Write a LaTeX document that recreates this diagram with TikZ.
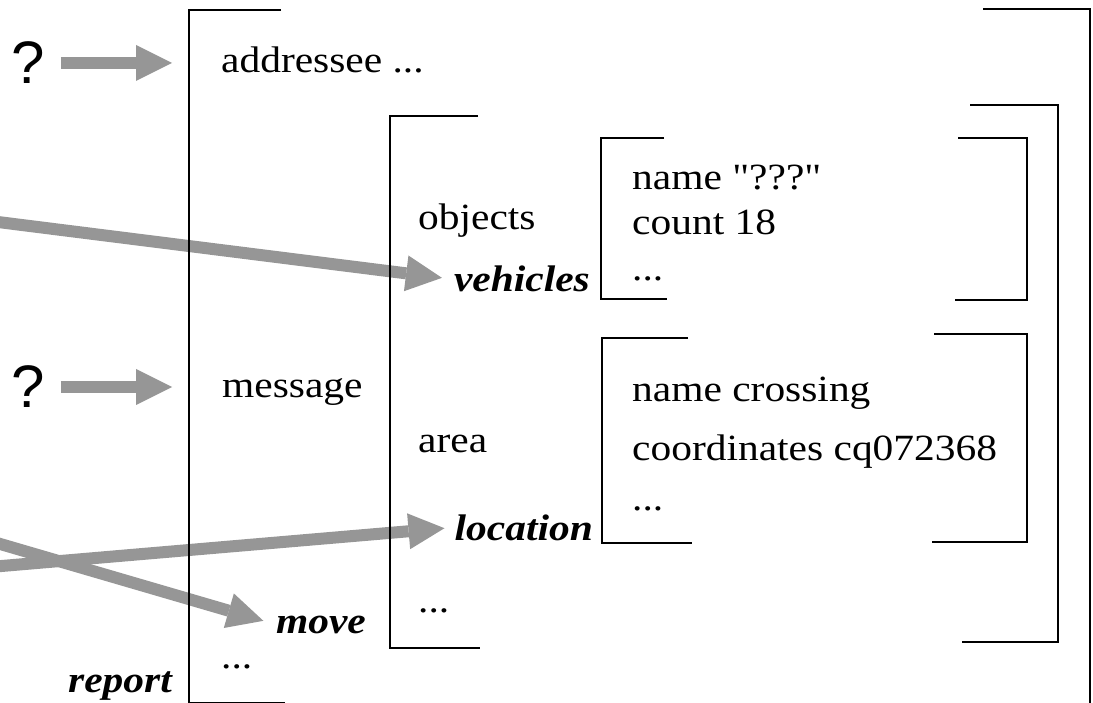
\documentclass[tikz,border=0pt]{standalone}
\usepackage{fontspec}
\setmainfont{Liberation Serif}[FakeStretch=1.12, Ligatures=TeXOff]
\newfontfamily\qfont{Liberation Sans}
\usepackage{tikz}
\usetikzlibrary{arrows.meta}
\definecolor{arrowgray}{RGB}{150,150,150}
\newcommand{\slotfont}{\fontsize{37}{40}\selectfont}

\begin{document}
\begin{tikzpicture}[
x=1pt, y=-1pt,
txt/.style={font=\slotfont, inner sep=0pt, anchor=base west},
key/.style={font=\slotfont\bfseries\itshape, inner sep=0pt, anchor=base east},
ques/.style={font=\qfont\fontsize{60}{64}\selectfont, inner sep=0pt},
fat/.style={draw=arrowgray, line width=12pt,
  -{Triangle[length=36pt,width=36pt,line width=0pt]}},
brk/.style={line width=1.5pt}]
    \useasboundingbox (0,0) rectangle (1093,703);

    % Slot names
    \node[txt] (addr) at (221,73) {addressee ...};
    \node[txt] (msg) at (222,398) {message};
    \node[txt] (rdots) at (221,668) {...};
    \node[key] (rep) at (172,692) {report};
    \node[key] (mv) at (366,633) {move};

    \node[txt] (obj) at (418,230) {objects};
    \node[key] (veh) at (590,292) {vehicles};
    \node[txt] (area) at (418,453) {area};
    \node[key] (loc) at (593,540) {location};
    \node[txt] (mdots) at (418,612) {...};

    % Fillers
    \node[txt] (vname) at (632,190) {name "???"};
    \node[txt] (vcount) at (632,235) {count 18};
    \node[txt] (vdots) at (632,281) {...};
    \node[txt] (lname) at (632,402) {name crossing};
    \node[txt] (lcoord) at (632,460) {coordinates cq072368};
    \node[txt] (ldots) at (632,510) {...};

    \node[ques] (q1) at (28,63) {?};
    \node[ques] (q2) at (28,387) {?};

    % Arrows
    \draw
    (-10,221) coordinate (in1)
    (-10,567) coordinate (in2)
    (-10,541) coordinate (in3);

    \draw[fat, shorten <=16pt] (q1.east) -- (q1.east -| rep.east);
    \draw[fat, shorten <=16pt] (q2.east) -- (q2.east -| rep.east);
    \draw[fat, shorten >=12pt] (in1) -- (veh.west);
    \draw[fat, shorten >=13pt] (in3) -- (mv.west);
    \draw[fat, shorten >=10pt] (in2) -- (loc.west);

    % Brackets
    \draw[brk] (281,10) -| (189,703) -- (285,703);
    \draw[brk] (983,9) -| (1090,703);
    \draw[brk] (478,116) -| (390,648) -- (480,648);
    \draw[brk] (970,105) -| (1058,642) -- (962,642);
    \draw[brk] (664,138) -| (601,299) -- (667,299);
    \draw[brk] (958,138) -| (1027,300) -- (955,300);
    \draw[brk] (688,338) -| (602,543) -- (692,543);
    \draw[brk] (934,334) -| (1027,542) -- (932,542);
\end{tikzpicture}
\end{document}
